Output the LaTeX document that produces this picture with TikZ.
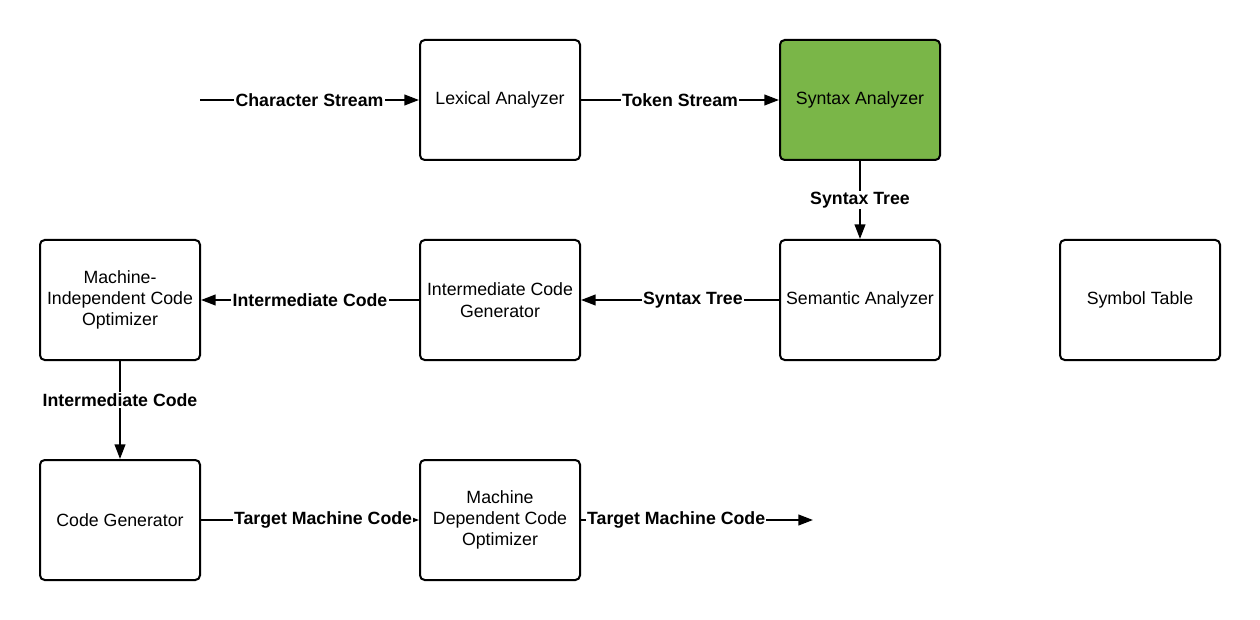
\documentclass[tikz,border=0pt]{standalone}
\usepackage{fontspec}
\setmainfont{Liberation Sans}
\usetikzlibrary{arrows.meta}
\definecolor{color1}{HTML}{7AB648}
\tikzstyle{rect} = [
    rectangle,
    rounded corners=3.5pt,
    align=center,
    minimum width=120pt,
    minimum height=90pt,
    text centered,
    fill=white,
    draw=black,
    line width=1.5pt,
    font=\fontsize{13.3}{16}\selectfont,
]
\tikzstyle{grect} = [rect, fill=color1]
\tikzstyle{arrow} = [line width=1.5pt,-{Triangle[length=11pt,width=8pt]}]
\tikzstyle{lbl} = [fill=white, inner sep=1pt, font=\fontsize{13.3}{16}\selectfont\bfseries]

\begin{document}
\begin{tikzpicture}[x=0.75pt, y=-0.75pt]
    \useasboundingbox (0,0) rectangle (1260,620);
    \node (la) [rect] at (500,100) {Lexical Analyzer};
    \node (sa) [grect] at (860,100) {Syntax Analyzer};
    \node (se) [rect] at (860,300) {Semantic Analyzer};
    \node (st) [rect] at (1140,300) {Symbol Table};
    \node (ic) [rect] at (500,300) {Intermediate Code\\ Generator};
    \node (mi) [rect] at (120,300) {Machine-\\ Independent Code\\ Optimizer};
    \node (cg) [rect] at (120,520) {Code Generator};
    \node (md) [rect] at (500,520) {Machine\\ Dependent Code\\ Optimizer};

    % free ends
    \coordinate (in) at (200,100);
    \coordinate (out) at (813,520);

    \path [arrow]
        (in) edge node[lbl] {Character Stream} (la)
        (la) edge node[lbl] {Token Stream} (sa)
        (sa) edge node[lbl] {Syntax Tree} (se)
        (se) edge node[lbl, pos=0.435] {Syntax Tree} (ic)
        (ic) edge node[lbl] {Intermediate Code} (mi)
        (mi) edge node[lbl, pos=0.4] {Intermediate Code} (cg)
        (cg) edge node[lbl, pos=0.56] {Target Machine Code} (md)
        (md) edge node[lbl, pos=0.41] {Target Machine Code} (out);
\end{tikzpicture}
\end{document}
